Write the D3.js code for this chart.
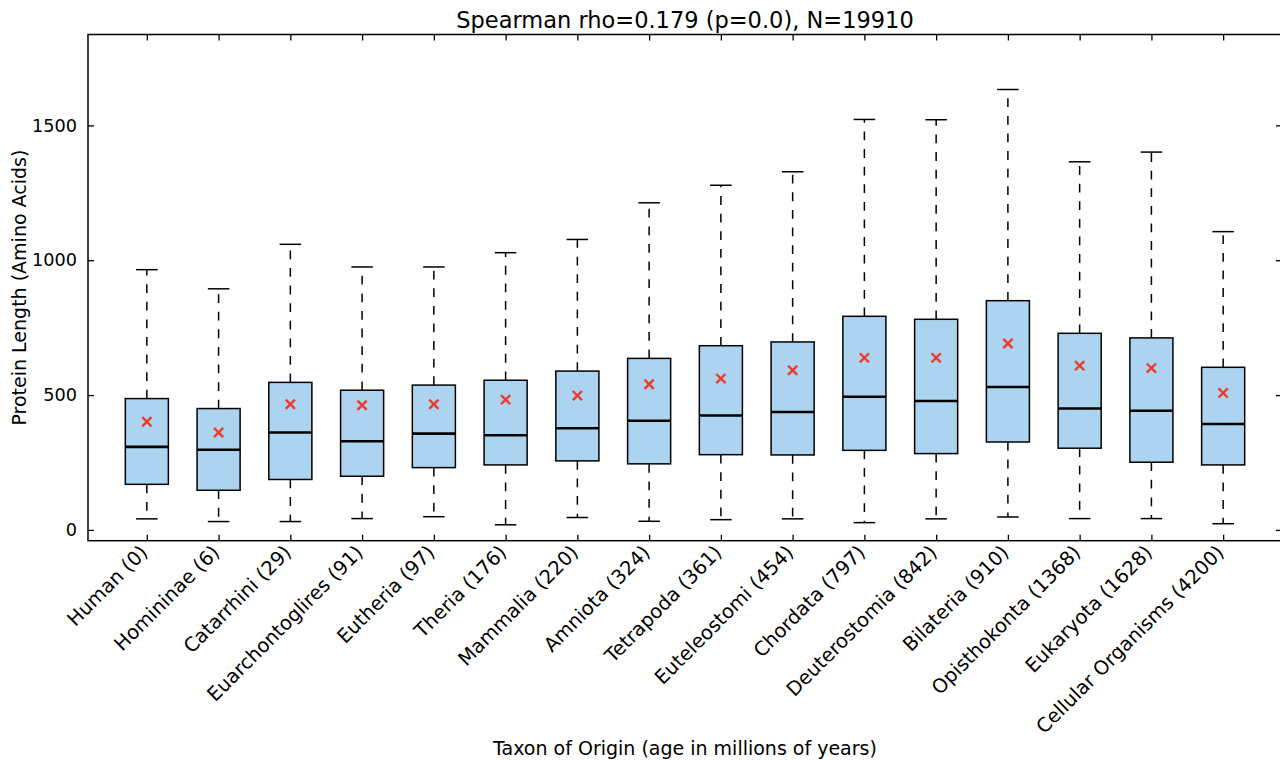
<!DOCTYPE html>
<html>
<head>
<meta charset="utf-8">
<script src="https://cdn.jsdelivr.net/npm/d3@7"></script>
<style>
  html, body { margin: 0; padding: 0; background: #fff; }
  svg { display: block; font-family: "DejaVu Sans", sans-serif; }
</style>
</head>
<body>
<svg id="chart" width="1280" height="760"></svg>
<script>
const categories = ["Human (0)", "Homininae (6)", "Catarrhini (29)", "Euarchontoglires (91)", "Eutheria (97)", "Theria (176)", "Mammalia (220)", "Amniota (324)", "Tetrapoda (361)", "Euteleostomi (454)", "Chordata (797)", "Deuterostomia (842)", "Bilateria (910)", "Opisthokonta (1368)", "Eukaryota (1628)", "Cellular Organisms (4200)"];
const whiskerLow  = [41, 31, 31, 42, 49, 19, 46, 32, 38, 41, 27, 41, 48, 42, 42, 23];
const q1          = [169, 147, 187, 199, 231, 241, 256, 245, 279, 278, 295, 283, 326, 303, 251, 241];
const median      = [308, 297, 361, 329, 357, 351, 377, 405, 424, 437, 494, 478, 530, 450, 442, 393];
const q3          = [487, 450, 547, 518, 537, 555, 589, 636, 683, 697, 792, 781, 850, 729, 712, 603];
const whiskerHigh = [965, 894, 1059, 975, 975, 1028, 1077, 1213, 1278, 1328, 1522, 1521, 1633, 1365, 1401, 1106];
const means       = [401, 361, 466, 462, 466, 483, 498, 540, 561, 592, 638, 638, 691, 609, 600, 508];
const yTicks = [0, 500, 1000, 1500];
const titleText = "Spearman rho=0.179 (p=0.0), N=19910";
const xLabel = "Taxon of Origin (age in millions of years)";
const yLabel = "Protein Length (Amino Acids)";

const padL = 88, padR = 1282, padT = 34.5, padB = 540.7;
const svg = d3.select("#chart");

const x = d3.scalePoint().domain(categories).range([padL, padR]).padding(0.82);
const y = d3.scaleLinear().domain([-40, 1837]).range([padB, padT]);
const step = x.step();
const boxW = step * 0.6;
const capW = boxW * 0.5;

const data = categories.map((c, i) => ({
  c, lo: whiskerLow[i], q1: q1[i], med: median[i], q3: q3[i], hi: whiskerHigh[i], mean: means[i]
}));

const plot = svg.append("g");

// whiskers (dashed)
plot.selectAll(".wu").data(data).join("line")
  .attr("x1", d => x(d.c)).attr("x2", d => x(d.c))
  .attr("y1", d => y(d.q3)).attr("y2", d => y(d.hi))
  .attr("stroke", "#000").attr("stroke-width", 1.5).attr("stroke-dasharray", "8.8,8.8");
plot.selectAll(".wl").data(data).join("line")
  .attr("x1", d => x(d.c)).attr("x2", d => x(d.c))
  .attr("y1", d => y(d.q1)).attr("y2", d => y(d.lo))
  .attr("stroke", "#000").attr("stroke-width", 1.5).attr("stroke-dasharray", "8.8,8.8");
// caps
plot.selectAll(".ch").data(data).join("line")
  .attr("x1", d => x(d.c) - capW / 2).attr("x2", d => x(d.c) + capW / 2)
  .attr("y1", d => y(d.hi)).attr("y2", d => y(d.hi))
  .attr("stroke", "#000").attr("stroke-width", 1.5);
plot.selectAll(".cl").data(data).join("line")
  .attr("x1", d => x(d.c) - capW / 2).attr("x2", d => x(d.c) + capW / 2)
  .attr("y1", d => y(d.lo)).attr("y2", d => y(d.lo))
  .attr("stroke", "#000").attr("stroke-width", 1.5);
// boxes
plot.selectAll(".box").data(data).join("rect")
  .attr("x", d => x(d.c) - boxW / 2).attr("width", boxW)
  .attr("y", d => y(d.q3)).attr("height", d => y(d.q1) - y(d.q3))
  .attr("fill", "#acd3ef").attr("stroke", "#000").attr("stroke-width", 1.5);
// medians
plot.selectAll(".med").data(data).join("line")
  .attr("x1", d => x(d.c) - boxW / 2).attr("x2", d => x(d.c) + boxW / 2)
  .attr("y1", d => y(d.med)).attr("y2", d => y(d.med))
  .attr("stroke", "#000").attr("stroke-width", 2.6);
// means (x markers)
const ms = 4.6;
const mg = plot.selectAll(".mean").data(data).join("g")
  .attr("transform", d => `translate(${x(d.c)},${y(d.mean)})`);
mg.append("line").attr("x1", -ms).attr("y1", -ms).attr("x2", ms).attr("y2", ms)
  .attr("stroke", "#ee3a2b").attr("stroke-width", 2.4);
mg.append("line").attr("x1", -ms).attr("y1", ms).attr("x2", ms).attr("y2", -ms)
  .attr("stroke", "#ee3a2b").attr("stroke-width", 2.4);

// ticks via d3 axes (inward)
const tickLen = 6;
const axisColor = "#000";
const gBottom = svg.append("g").attr("transform", `translate(0,${padB})`)
  .call(d3.axisBottom(x).tickSize(-tickLen).tickFormat(""));
const gTop = svg.append("g").attr("transform", `translate(0,${padT})`)
  .call(d3.axisTop(x).tickSize(-tickLen).tickFormat(""));
const gLeft = svg.append("g").attr("transform", `translate(${padL},0)`)
  .call(d3.axisLeft(y).tickValues(yTicks).tickSize(-tickLen).tickPadding(11).tickFormat(d3.format("d")));
const gRight = svg.append("g").attr("transform", `translate(${padR},0)`)
  .call(d3.axisRight(y).tickValues(yTicks).tickSize(-tickLen).tickFormat(""));
[gBottom, gTop, gLeft, gRight].forEach(g => {
  g.select(".domain").remove();
  g.selectAll(".tick line").attr("stroke", axisColor).attr("stroke-width", 1.3);
});
gLeft.selectAll(".tick text").attr("font-size", "17.7px").attr("fill", "#000")
  .attr("font-family", "DejaVu Sans");

svg.append("rect").attr("x", padL).attr("y", padT)
  .attr("width", padR - padL).attr("height", padB - padT)
  .attr("fill", "none").attr("stroke", "#000").attr("stroke-width", 1.5);

// rotated x tick labels
svg.append("g").selectAll("text").data(categories).join("text")
  .attr("transform", d => `translate(${x(d) + 2},${padB + 13}) rotate(-45)`)
  .attr("text-anchor", "end")
  .attr("font-size", "19.5px").attr("fill", "#000")
  .text(d => d);

// title
svg.append("text").attr("x", (padL + padR) / 2).attr("y", 28)
  .attr("text-anchor", "middle").attr("font-size", "22.5px").attr("fill", "#000")
  .text(titleText);
// x label
svg.append("text").attr("x", (padL + padR) / 2).attr("y", 755)
  .attr("text-anchor", "middle").attr("font-size", "19px").attr("fill", "#000")
  .text(xLabel);
// y label
svg.append("text").attr("transform", `translate(26,${(padT + padB) / 2}) rotate(-90)`)
  .attr("text-anchor", "middle").attr("font-size", "19px").attr("fill", "#000")
  .text(yLabel);
</script>
</body>
</html>
